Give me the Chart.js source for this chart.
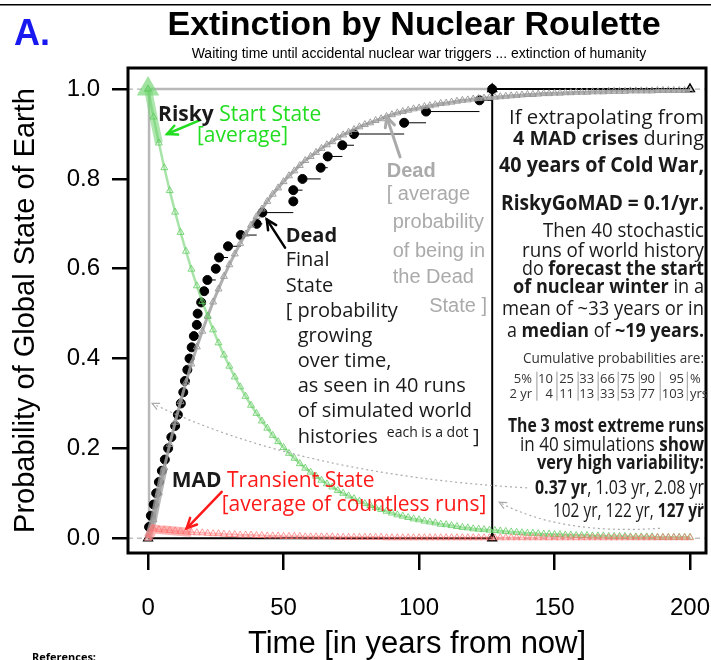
<!DOCTYPE html>
<html>
<head>
<meta charset="utf-8">
<title>Extinction by Nuclear Roulette</title>
<script src="https://cdn.jsdelivr.net/npm/chart.js@4.4.1/dist/chart.umd.min.js"></script>
<style>
  html, body { margin: 0; padding: 0; background: #fff; }
  #box { width: 711px; height: 660px; position: relative; }
</style>
</head>
<body>
<div id="box"><canvas id="roulette"></canvas></div>
<script>
// ---- values ----
const years = [0,2,4,6,8,10,12,14,16,18,20,22,24,26,28,30,32,34,36,38,40,42,44,46,48,50,52,54,56,58,
  60,62,64,66,68,70,72,74,76,78,80,82,84,86,88,90,92,94,96,98,100,102,104,106,108,110,112,114,116,118,
  120,122,124,126,128,130,132,134,136,138,140,142,144,146,148,150,152,154,156,158,160,162,164,166,168,
  170,172,174,176,178,180,182,184,186,188,190,192,194,196,198,200];

// average probability of the Risky start state (green)
const riskyStart = [1.000,0.938,0.880,0.825,0.774,0.726,0.681,0.639,0.599,0.562,
  0.527,0.495,0.464,0.435,0.408,0.383,0.359,0.337,0.316,0.296,
  0.278,0.261,0.245,0.229,0.215,0.202,0.189,0.178,0.166,0.156,
  0.147,0.138,0.129,0.121,0.114,0.106,0.100,0.094,0.088,0.082,
  0.077,0.073,0.068,0.064,0.060,0.056,0.052,0.049,0.046,0.043,
  0.041,0.038,0.036,0.034,0.031,0.030,0.028,0.026,0.024,0.023,
  0.021,0.020,0.019,0.018,0.017,0.016,0.015,0.014,0.013,0.012,
  0.011,0.011,0.010,0.009,0.009,0.008,0.008,0.007,0.007,0.006,
  0.006,0.006,0.005,0.005,0.005,0.004,0.004,0.004,0.004,0.003,
  0.003,0.003,0.003,0.003,0.002,0.002,0.002,0.002,0.002,0.002,
  0.002];

// average probability of the MAD transient state (red)
const madTransient = [0.000,0.021,0.019,0.018,0.017,0.016,0.015,0.014,0.013,0.012,
  0.012,0.011,0.010,0.010,0.009,0.008,0.008,0.007,0.007,0.007,
  0.006,0.006,0.005,0.005,0.005,0.004,0.004,0.004,0.004,0.003,
  0.003,0.003,0.003,0.003,0.003,0.002,0.002,0.002,0.002,0.002,
  0.002,0.002,0.002,0.002,0.001,0.001,0.001,0.001,0.001,0.001,
  0.001,0.001,0.001,0.001,0.001,0.001,0.001,0.001,0.001,0.001,
  0.001,0.001,0.001,0.001,0.001,0.001,0.001,0.001,0.001,0.001,
  0.001,0.001,0.001,0.001,0.001,0.001,0.001,0.001,0.001,0.001,
  0.001,0.001,0.001,0.001,0.001,0.001,0.001,0.001,0.001,0.001,
  0.001,0.001,0.001,0.001,0.001,0.001,0.001,0.001,0.001,0.001,
  0.001];

// average probability of the Dead state (grey)
const deadAverage = [0.000,0.041,0.101,0.157,0.209,0.258,0.304,0.347,0.388,0.426,
  0.461,0.494,0.526,0.555,0.583,0.609,0.633,0.656,0.677,0.697,
  0.716,0.733,0.750,0.766,0.780,0.794,0.807,0.818,0.830,0.841,
  0.850,0.859,0.868,0.876,0.883,0.892,0.898,0.904,0.910,0.916,
  0.921,0.925,0.930,0.934,0.939,0.943,0.947,0.950,0.953,0.956,
  0.958,0.961,0.963,0.965,0.968,0.969,0.971,0.973,0.975,0.976,
  0.978,0.979,0.980,0.981,0.982,0.983,0.984,0.985,0.986,0.987,
  0.988,0.988,0.989,0.990,0.990,0.991,0.991,0.992,0.992,0.993,
  0.993,0.993,0.994,0.994,0.994,0.995,0.995,0.995,0.995,0.996,
  0.996,0.996,0.996,0.996,0.997,0.997,0.997,0.997,0.997,0.997,
  0.997];

// waiting time of each of the 40 simulated runs (sorted, years)
const runYears = [0.37,1.03,2.08,3.0,4.0,5.1,6.2,7.4,8.6,10.0,
  11.0,12.1,13.0,13.6,14.5,15.3,16.1,16.9,18.0,18.3,
  19.6,20.7,21.9,25.0,26.2,29.5,34.2,40.1,42.2,53.6,
  53.6,57.0,63.7,66.3,71.7,76.0,94.5,102.6,122.3,127.0];

// cumulative probability table in the side panel
const cumPercent = ['5%','10','25','33','66','75','90','95'];
const cumYears = ['2 yr','4','11','13','33','53','77','103'];

const xTicks = [0, 50, 100, 150, 200];
const yTicks = [0, 0.2, 0.4, 0.6, 0.8, 1.0];

const X_MIN = -7.4, X_MAX = 205.9, Y_MIN = -0.033, Y_MAX = 1.047;

const GREEN = '#22dd22', RED = '#ff1a1a', GREY = '#aaaaaa', INK = '#1a1a1a';
const FIRA = '"Open Sans", "Noto Sans", sans-serif';
const HELV = '"Liberation Sans", Arial, sans-serif';

const pts = (xs, ys) => xs.map((x, i) => ({x: x, y: ys[i]}));

const fastest = runYears[0];
const slowest = runYears[runYears.length - 1];

// empirical distribution: a dot per run plus a flat step to the next run
const dots = runYears.map((t, i) => ({x: t, y: (i + 1) / runYears.length}));
const steps = [];
for (let i = 0; i < dots.length - 1; i++) {
  steps.push({x: dots[i].x, y: dots[i].y}, {x: dots[i + 1].x, y: dots[i].y}, {x: dots[i + 1].x, y: null});
}

const openTri = (color, r) => ({
  pointStyle: 'triangle', pointRadius: r, pointBorderColor: color,
  pointBackgroundColor: 'rgba(0,0,0,0)', pointBorderWidth: 1
});

const datasets = [
  { label: 'ref 1', data: [{x: X_MIN, y: 1}, {x: X_MAX, y: 1}], showLine: true, pointRadius: 0,
    borderColor: '#a0a0a0', borderWidth: 1, borderDash: [5, 4], order: 30 },
  { label: 'ref 0', data: [{x: X_MIN, y: 0}, {x: X_MAX, y: 0}], showLine: true, pointRadius: 0,
    borderColor: '#a0a0a0', borderWidth: 1, borderDash: [5, 4], order: 29 },
  { label: 'fastest run', data: [{x: 0, y: 0}, {x: fastest, y: 0}, {x: fastest, y: 1}, {x: slowest, y: 1}],
    showLine: true, pointRadius: 0, borderColor: '#b8b8b8', borderWidth: 2.5, order: 28 },
  { label: 'slowest run', data: [{x: 0, y: 0}, {x: slowest, y: 0}, {x: slowest, y: 1}, {x: 200, y: 1}],
    showLine: true, borderColor: '#000', borderWidth: 2, ...openTri('#000', 5), pointBorderWidth: 1.5, order: 27 },
  { label: 'steps', data: steps, showLine: true, spanGaps: false, pointRadius: 0,
    borderColor: '#000', borderWidth: 1, order: 26 },
  { label: 'runs', data: dots, showLine: false, pointRadius: 4.5,
    pointBackgroundColor: '#000', pointBorderColor: '#000', order: 25 },
  { label: 'Dead start', data: pts(years.slice(0, 4), deadAverage), showLine: true, pointRadius: 0,
    borderColor: 'rgba(160,160,160,0.75)', borderWidth: 7, order: 24 },
  { label: 'Dead', data: pts(years, deadAverage), showLine: true,
    borderColor: 'rgba(160,160,160,0.85)', borderWidth: 3, ...openTri('rgba(150,150,150,0.9)', 4), order: 23 },
  { label: 'Risky start', data: pts(years.slice(0, 3), riskyStart), showLine: true,
    pointStyle: 'triangle', pointRadius: [5, 0, 0], pointBackgroundColor: 'rgba(120,215,120,0.7)',
    pointBorderColor: 'rgba(120,215,120,0.7)', borderColor: 'rgba(120,215,120,0.6)', borderWidth: 8, order: 22 },
  { label: 'Risky', data: pts(years, riskyStart), showLine: true,
    borderColor: 'rgba(110,210,110,0.6)', borderWidth: 2.5, ...openTri('rgba(90,200,90,0.75)', 4), order: 21 },
  { label: 'MAD start', data: pts(years.slice(0, 9), madTransient), showLine: true, pointRadius: 0,
    borderColor: 'rgba(255,130,130,0.6)', borderWidth: 9, order: 20 },
  { label: 'MAD', data: pts(years, madTransient), showLine: true,
    borderColor: 'rgba(255,120,120,0.5)', borderWidth: 2, ...openTri('rgba(255,110,110,0.7)', 4), order: 19 }
];

// ---- annotation layout (positions in data units, w = target width in px) ----
const labels = [
  {t: 3.69, p: 0.930, size: 21, parts: [['Risky', 1], [' Start State', 0, GREEN]]},
  {t: 18.06, p: 0.882, size: 21, parts: [['[average]', 0, GREEN]]},
  {t: 50.81, p: 0.660, parts: [['Dead', 1]]},
  {t: 50.81, p: 0.605, parts: [['Final']]},
  {t: 50.81, p: 0.548, parts: [['State']]},
  {t: 50.81, p: 0.492, parts: [['[ probability']]},
  {t: 55.24, p: 0.437, parts: [['growing']]},
  {t: 55.24, p: 0.381, parts: [['over time,']]},
  {t: 55.24, p: 0.325, parts: [['as seen in 40 runs']]},
  {t: 55.24, p: 0.270, parts: [['of simulated world']]},
  {t: 55.24, p: 0.212, parts: [['histories']]},
  {t: 88.1, p: 0.226, size: 14, parts: [['each is a dot']]},
  {t: 119.9, p: 0.212, parts: [[']']]},
  {t: 8.75, p: 0.114, size: 21, parts: [['MAD', 1], [' Transient State', 0, RED]]},
  {t: 27.18, p: 0.061, size: 21, parts: [['[average of countless runs]', 0, RED]]},
  {t: 88.08, p: 0.805, font: HELV, size: 20, parts: [['Dead', 1, GREY]]},
  {t: 88.08, p: 0.752, font: HELV, size: 20, parts: [['[ average', 0, GREY]]},
  {t: 90.29, p: 0.691, font: HELV, size: 20, parts: [['probability', 0, GREY]]},
  {t: 90.29, p: 0.627, font: HELV, size: 20, parts: [['of being in', 0, GREY]]},
  {t: 90.29, p: 0.569, font: HELV, size: 20, parts: [['the Dead', 0, GREY]]},
  {t: 125.08, p: 0.504, font: HELV, size: 20, align: 'right', parts: [['State ]', 0, GREY]]},
  // side panel
  {t: 205.16, p: 0.923, align: 'right', size: 20, w: 195, parts: [['If extrapolating from']]},
  {t: 205.16, p: 0.875, align: 'right', size: 20, w: 191, parts: [['4 MAD crises', 1], [' during']]},
  {t: 205.16, p: 0.816, align: 'right', size: 21, w: 205, parts: [['40 years of Cold War,', 1]]},
  {t: 205.16, p: 0.731, align: 'right', size: 22, w: 203, parts: [['RiskyGoMAD = 0.1/yr.', 1]]},
  {t: 205.16, p: 0.671, align: 'right', w: 161, parts: [['Then 40 stochastic']]},
  {t: 205.16, p: 0.626, align: 'right', w: 182, parts: [['runs of world history']]},
  {t: 205.16, p: 0.586, align: 'right', w: 182, parts: [['do '], ['forecast the start', 1]]},
  {t: 205.16, p: 0.545, align: 'right', w: 191, parts: [['of nuclear winter', 1], [' in a']]},
  {t: 205.16, p: 0.497, align: 'right', w: 202, parts: [['mean of ~33 years or in']]},
  {t: 205.16, p: 0.448, align: 'right', w: 197, parts: [['a '], ['median', 1], [' of '], ['~19 years.', 1]]},
  {t: 205.16, p: 0.389, align: 'right', size: 14, w: 181, parts: [['Cumulative probabilities are:', 0, '#333']]},
  {t: 205.16, p: 0.237, align: 'right', w: 196, parts: [['The 3 most extreme runs', 1]]},
  {t: 205.16, p: 0.194, align: 'right', w: 184, parts: [['in 40 simulations '], ['show', 1]]},
  {t: 205.16, p: 0.154, align: 'right', w: 167, parts: [['very high variability:', 1]]},
  {t: 205.16, p: 0.098, align: 'right', w: 169, parts: [['0.37 yr', 1], [', 1.03 yr, 2.08 yr']]},
  {t: 205.16, p: 0.074, align: 'right', size: 12, parts: [['...']]},
  {t: 205.16, p: 0.048, align: 'right', w: 151, parts: [['102 yr, 122 yr, '], ['127 yr', 1]]}
];

const tableCols = [141.7, 149.4, 157.2, 164.6, 172.3, 179.7, 187.1, 197.8];
const tableSeps = [143.5, 150.9, 158.7, 166.1, 173.5, 181.3, 189.0, 199.0];

const arrows = [
  {from: [19.19, 0.931], to: [7.01, 0.900], color: GREEN, width: 2.5},
  {from: [93.0, 0.849], to: [88.08, 0.938], color: GREY, width: 3},
  {from: [50.55, 0.647], to: [43.8, 0.710], color: '#000', width: 2.5},
  {from: [27.18, 0.103], to: [14.26, 0.022], color: RED, width: 2.5}
];

const curves = [
  {from: [139.9, 0.112], ctrl: [56.3, 0.141], to: [1.5, 0.300]},
  {from: [188.9, 0.022], ctrl: [152.2, 0.007], to: [129.6, 0.080]}
];

// mixed bold / regular text on one line; squeezed sideways when w is given
function rich(ctx, x, y, align, family, size, parts, w) {
  const runs = parts.map(p => {
    ctx.font = (p[1] ? 'bold ' : '') + size + 'px ' + family;
    return {text: p[0], font: ctx.font, color: p[2] || INK, w: ctx.measureText(p[0]).width};
  });
  const total = runs.reduce((s, r) => s + r.w, 0);
  const k = w ? w / total : 1;
  let cx = align === 'right' ? -total : (align === 'center' ? -total / 2 : 0);
  ctx.save();
  ctx.translate(x, y);
  ctx.scale(k, 1);
  ctx.textAlign = 'left';
  ctx.textBaseline = 'alphabetic';
  runs.forEach(r => {
    ctx.font = r.font;
    ctx.fillStyle = r.color;
    ctx.fillText(r.text, cx, 0);
    cx += r.w;
  });
  ctx.restore();
}

function head(ctx, x0, y0, x1, y1, len) {
  const a = Math.atan2(y1 - y0, x1 - x0);
  ctx.beginPath();
  ctx.moveTo(x1 - len * Math.cos(a - 0.45), y1 - len * Math.sin(a - 0.45));
  ctx.lineTo(x1, y1);
  ctx.lineTo(x1 - len * Math.cos(a + 0.45), y1 - len * Math.sin(a + 0.45));
  ctx.stroke();
}

const annotate = {
  id: 'annotate',
  afterDraw(chart) {
    const {ctx, chartArea: a} = chart;
    const X = v => chart.scales.x.getPixelForValue(v);
    const Y = v => chart.scales.y.getPixelForValue(v);
    ctx.save();

    // frame
    ctx.strokeStyle = '#000';
    ctx.lineWidth = 3;
    ctx.strokeRect(a.left, a.top, a.right - a.left, a.bottom - a.top);

    // dotted pointers to the extreme runs
    ctx.strokeStyle = '#aaa';
    ctx.lineWidth = 1.2;
    curves.forEach(c => {
      ctx.setLineDash([2, 3]);
      ctx.beginPath();
      ctx.moveTo(X(c.from[0]), Y(c.from[1]));
      ctx.quadraticCurveTo(X(c.ctrl[0]), Y(c.ctrl[1]), X(c.to[0]), Y(c.to[1]));
      ctx.stroke();
      ctx.setLineDash([]);
      head(ctx, X(c.ctrl[0]), Y(c.ctrl[1]), X(c.to[0]), Y(c.to[1]), 8);
    });

    // solid arrows
    ctx.lineCap = 'round';
    arrows.forEach(r => {
      ctx.strokeStyle = r.color;
      ctx.lineWidth = r.width;
      const x0 = X(r.from[0]), y0 = Y(r.from[1]), x1 = X(r.to[0]), y1 = Y(r.to[1]);
      ctx.beginPath();
      ctx.moveTo(x0, y0);
      ctx.lineTo(x1, y1);
      ctx.stroke();
      head(ctx, x0, y0, x1, y1, 11);
    });

    labels.forEach(l => rich(ctx, X(l.t), Y(l.p), l.align || 'left', l.font || FIRA, l.size || 20, l.parts, l.w));

    // cumulative table
    ctx.strokeStyle = '#999';
    ctx.lineWidth = 1;
    tableSeps.forEach(t => {
      ctx.beginPath();
      ctx.moveTo(X(t), Y(0.370));
      ctx.lineTo(X(t), Y(0.307));
      ctx.stroke();
    });
    cumPercent.forEach((s, i) => rich(ctx, X(tableCols[i]), Y(0.346), 'right', FIRA, 13, [[s, 0, '#333']]));
    cumYears.forEach((s, i) => rich(ctx, X(tableCols[i]), Y(0.313), 'right', FIRA, 13, [[s, 0, '#333']]));
    rich(ctx, X(200.0), Y(0.346), 'left', FIRA, 13, [['%', 0, '#333']]);
    rich(ctx, X(200.0), Y(0.313), 'left', FIRA, 13, [['yrs', 0, '#333']]);

    // heading area
    ctx.fillStyle = '#000';
    ctx.fillRect(0, 4, chart.width, 1.5);
    rich(ctx, 14, 45, 'left', HELV, 36, [['A.', 1, '#1818f0']]);
    rich(ctx, 414, 35, 'center', HELV, 34, [['Extinction by Nuclear Roulette', 1, '#000']]);
    rich(ctx, 419, 58, 'center', HELV, 14, [['Waiting time until accidental nuclear war triggers ... extinction of humanity', 0, '#000']]);
    rich(ctx, 32, 661, 'left', FIRA, 11, [['References:', 1, '#000']]);
    ctx.restore();
  }
};

// keep the frame where the figure has it: no room reserved for overhanging tick labels
const noOverhang = s => { s.paddingLeft = 0; s.paddingRight = 0; s.paddingTop = 0; s.paddingBottom = 0; };

new Chart(document.getElementById('roulette'), {
  type: 'scatter',
  data: { datasets: datasets },
  options: {
    responsive: true,
    maintainAspectRatio: false,
    animation: false,
    layout: { autoPadding: false, padding: { top: 68, right: 5, left: 0, bottom: 0 } },
    plugins: { legend: { display: false }, tooltip: { enabled: false } },
    scales: {
      x: {
        type: 'linear', min: X_MIN, max: X_MAX,
        afterBuildTicks: s => { s.ticks = xTicks.map(v => ({value: v})); },
        afterFit: s => { s.height = 107; noOverhang(s); },
        grid: { drawOnChartArea: false, drawTicks: true, tickLength: 17, color: '#000', lineWidth: 2.5 },
        border: { display: false },
        ticks: { color: '#000', font: { family: HELV, size: 24 }, padding: 24, maxRotation: 0, autoSkip: false },
        title: { display: true, text: 'Time [in years from now]', color: '#000',
                 font: { family: HELV, size: 31, lineHeight: 1 }, padding: { top: 0, bottom: 0 } }
      },
      y: {
        type: 'linear', min: Y_MIN, max: Y_MAX,
        afterBuildTicks: s => { s.ticks = yTicks.map(v => ({value: v})); },
        afterFit: s => { s.width = 128; noOverhang(s); },
        grid: { drawOnChartArea: false, drawTicks: true, tickLength: 16, color: '#000', lineWidth: 2.5 },
        border: { display: false },
        ticks: { color: '#000', font: { family: HELV, size: 24 }, padding: 12, autoSkip: false,
                 callback: v => v.toFixed(1) },
        title: { display: true, text: 'Probability of Global State of Earth', color: '#000',
                 font: { family: HELV, size: 29 }, padding: { top: 9, bottom: 0 } }
      }
    }
  },
  plugins: [annotate]
});
</script>
</body>
</html>
